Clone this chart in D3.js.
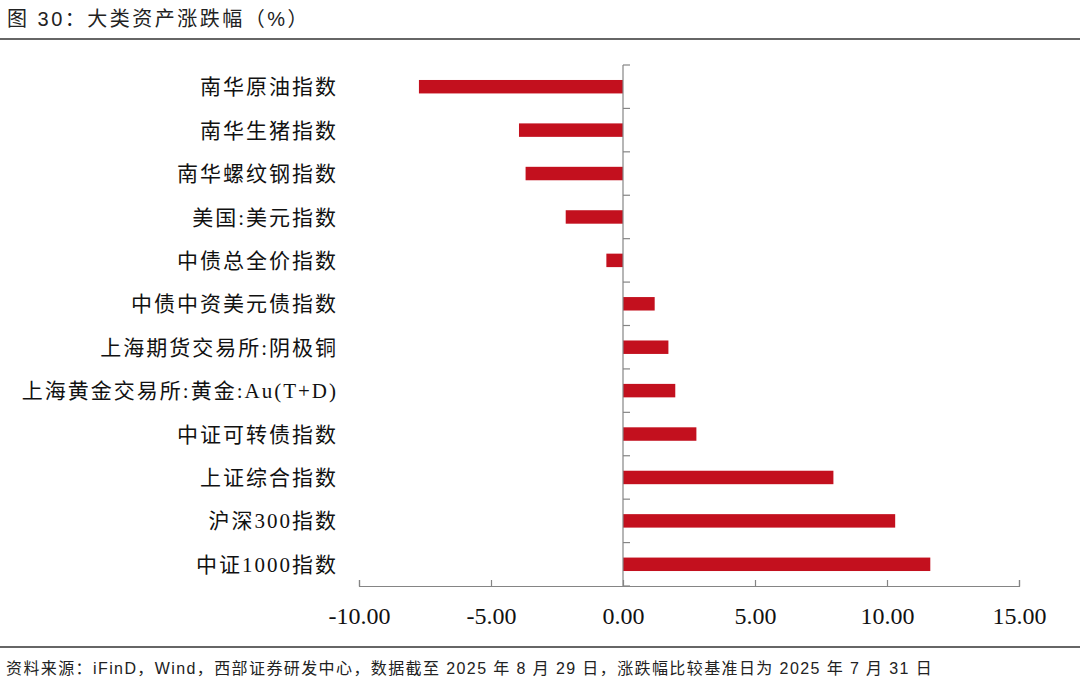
<!DOCTYPE html>
<html><head><meta charset="utf-8">
<script src="https://cdn.jsdelivr.net/npm/d3@7"></script>
<style>
html,body{margin:0;padding:0;background:#fff;}
svg{display:block;}
</style></head>
<body>
<script>
const categories = ["南华原油指数","南华生猪指数","南华螺纹钢指数","美国:美元指数","中债总全价指数","中债中资美元债指数","上海期货交易所:阴极铜","上海黄金交易所:黄金:Au(T+D)","中证可转债指数","上证综合指数","沪深300指数","中证1000指数"];
const values = [-7.73,-3.94,-3.69,-2.17,-0.63,1.20,1.72,1.98,2.78,7.97,10.31,11.64];
const xTicks = [-10,-5,0,5,10,15];
const titleText = "图 30：大类资产涨跌幅（%）";
const sourceText = "资料来源：iFinD，Wind，西部证券研发中心，数据截至 2025 年 8 月 29 日，涨跌幅比较基准日为 2025 年 7 月 31 日";

const W = 1080, H = 689;
const svg = d3.select("body").append("svg").attr("width", W).attr("height", H);

const x = d3.scaleLinear().domain([-10, 15]).range([359, 1019]);
const y = d3.scaleBand().domain(categories).range([65, 586]).padding(0);
const barH = y.bandwidth() * 0.31;
const axisColor = "#858585";
const barColor = "#C3101E";

// title
svg.append("text").attr("x", 7).attr("y", 26)
  .attr("font-family", "'Liberation Sans','Noto Sans CJK SC',sans-serif")
  .attr("font-size", 20).attr("letter-spacing", 2.5).attr("fill", "#222")
  .text(titleText);
svg.append("line").attr("x1", 0).attr("x2", W).attr("y1", 39).attr("y2", 39)
  .attr("stroke", "#333").attr("stroke-width", 1.6);

// bars
svg.append("g").selectAll("rect").data(categories).join("rect")
  .attr("x", (d,i) => x(Math.min(0, values[i])))
  .attr("width", (d,i) => Math.abs(x(values[i]) - x(0)))
  .attr("y", d => y(d) + y.bandwidth()/2 - barH/2)
  .attr("height", barH)
  .attr("fill", barColor);

// category axis at zero with ticks to the right
const gy = svg.append("g").attr("transform", `translate(${x(0)},0)`);
gy.append("line").attr("x1", 0).attr("x2", 0).attr("y1", 65).attr("y2", 586)
  .attr("stroke", axisColor).attr("stroke-width", 1.2);
const bounds = categories.map(c => y(c)).concat([y.range()[1]]);
gy.selectAll("line.bt").data(bounds).join("line").attr("class","bt")
  .attr("x1", 0).attr("x2", 7).attr("y1", d => d).attr("y2", d => d)
  .attr("stroke", axisColor).attr("stroke-width", 1.2);

// category labels
svg.append("g").selectAll("text").data(categories).join("text")
  .attr("x", 338).attr("y", d => y(d) + y.bandwidth()/2)
  .attr("dy", "0.36em").attr("text-anchor", "end")
  .attr("font-family", "'Liberation Serif','Noto Sans CJK SC',serif")
  .attr("font-size", 21).attr("letter-spacing", 2).attr("fill", "#111")
  .text(d => d);

// x axis
const xAxis = d3.axisBottom(x).tickValues(xTicks).tickSize(-6).tickPadding(21)
  .tickFormat(d => d3.format(".2f")(d).replace("\u2212", "-"));
const gx = svg.append("g").attr("transform", "translate(0,586)").call(xAxis);
gx.select(".domain").attr("stroke", axisColor).attr("stroke-width", 1.2);
gx.selectAll(".tick line").attr("stroke", axisColor).attr("stroke-width", 1.2);
gx.selectAll(".tick text")
  .attr("font-family", "'Liberation Serif',serif").attr("font-size", 24).attr("fill", "#111");

// footer
svg.append("line").attr("x1", 0).attr("x2", W).attr("y1", 647).attr("y2", 647)
  .attr("stroke", "#333").attr("stroke-width", 1.6);
svg.append("text").attr("x", 6).attr("y", 674)
  .attr("font-family", "'Liberation Sans','Noto Sans CJK SC',sans-serif")
  .attr("font-size", 16).attr("letter-spacing", 1.4).attr("fill", "#222")
  .text(sourceText);
</script>
</body></html>
